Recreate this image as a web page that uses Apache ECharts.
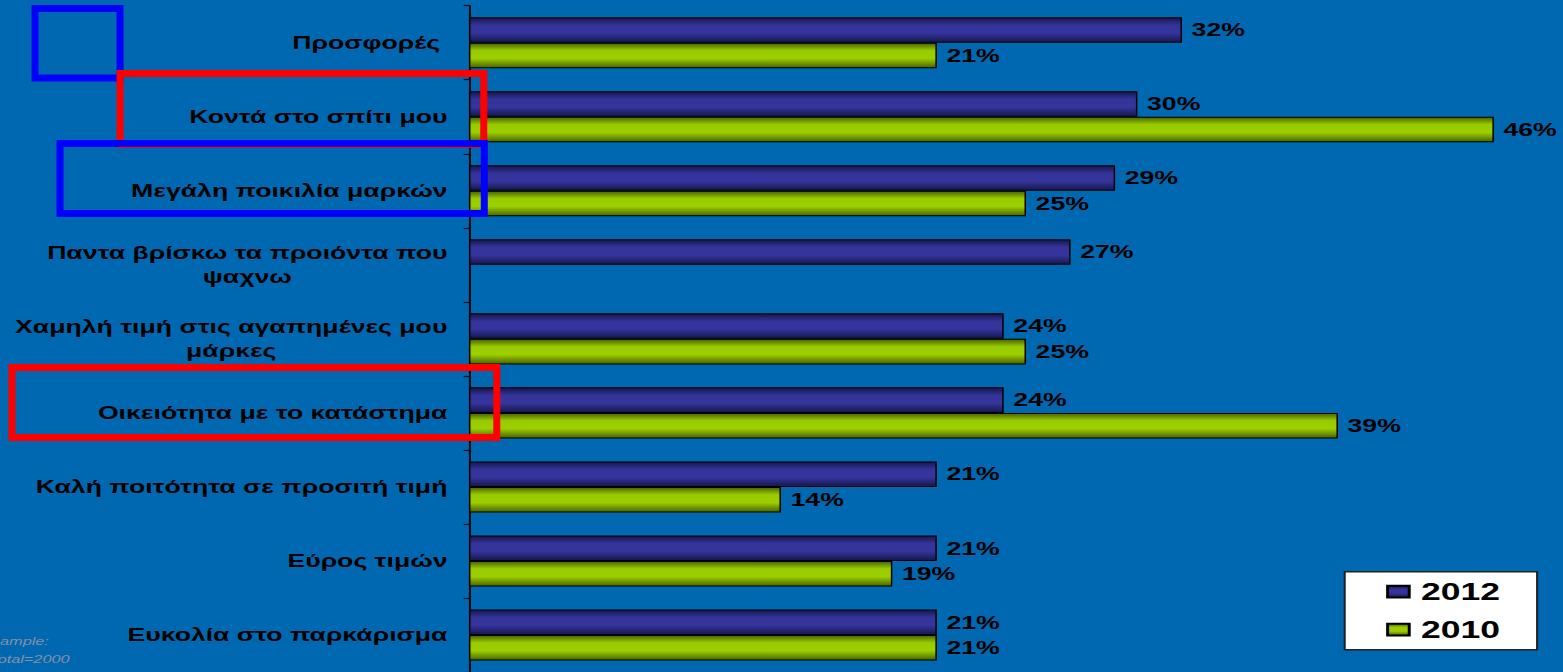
<!DOCTYPE html>
<html>
<head>
<meta charset="utf-8">
<script src="https://cdn.jsdelivr.net/npm/echarts@6/dist/echarts.min.js"></script>
<style>
  html, body { margin: 0; padding: 0; background: #0067B1; overflow: hidden; }
  #chart { width: 1056px; height: 672px; transform-origin: 0 0; transform: scaleX(1.48011); }
</style>
</head>
<body>
<div id="chart"></div>
<script>
// Reasons for choosing the store, 2012 vs 2010 (% of respondents)
const categories = [
  'Προσφορές ',
  'Κοντά στο σπίτι μου',
  'Μεγάλη ποικιλία μαρκών',
  'Παντα βρίσκω τα προιόντα που\nψαχνω',
  'Χαμηλή τιμή στις αγαπημένες μου\nμάρκες',
  'Οικειότητα με το κατάστημα',
  'Καλή ποιτότητα σε προσιτή τιμή',
  'Εύρος τιμών',
  'Ευκολία στο παρκάρισμα'
];
const values2012 = [32, 30, 29, 27, 24, 24, 21, 21, 21];
const values2010 = [21, 46, 25, null, 25, 39, 14, 19, 21];
const seriesNames = ['2012', '2010'];
const sampleNote = 'Sample:\nTotal=2000';

// The page is drawn narrow and stretched horizontally by CSS.
const SX = 1563 / 1056;
const FONT = '"Liberation Sans", Arial, sans-serif';
const X_MAX = 48;
const PX_PER_UNIT = 22.28; // screen pixels per percentage point

function barGradient(edgeTop, mid1, mid2, edgeBottom) {
  return new echarts.graphic.LinearGradient(0, 0, 0, 1, [
    { offset: 0, color: edgeTop },
    { offset: 0.3, color: mid1 },
    { offset: 0.62, color: mid2 },
    { offset: 1, color: edgeBottom }
  ]);
}

// Outline boxes drawn over the category labels (given in screen pixels).
function outlineBox(x0, y0, x1, y1, color, z) {
  return {
    type: 'rect', z: z, silent: true,
    shape: { x: x0, y: y0, width: x1 - x0, height: y1 - y0 },
    style: { fill: 'none', stroke: color, lineWidth: 7 }
  };
}

const chart = echarts.init(document.getElementById('chart'), null, { renderer: 'svg', width: 1056, height: 672 });

const labelFont = { fontFamily: FONT, fontWeight: 'bold', fontSize: 18, color: '#000' };

chart.setOption({
  backgroundColor: '#0067B1',
  animation: false,
  grid: { left: 469 / SX, top: 5.7, width: X_MAX * PX_PER_UNIT / SX, height: 668.3, containLabel: false },
  xAxis: {
    type: 'value', min: 0, max: X_MAX,
    show: false
  },
  yAxis: {
    type: 'category',
    data: categories,
    inverse: true,
    axisLine: { show: true, lineStyle: { color: '#0a0a0a', width: 1.4 } },
    axisTick: { show: true, length: 3.6, lineStyle: { color: '#0a0a0a', width: 1.2 } },
    splitLine: { show: false },
    axisLabel: {
      margin: 14.5,
      formatter: function (v) {
        return v.split('\n').map(function (l) { return '{c|' + l + '}'; }).join('\n');
      },
      rich: {
        c: Object.assign({ align: 'center', lineHeight: 24 }, labelFont)
      }
    }
  },
  legend: {
    orient: 'vertical',
    left: 1344.7 / SX, top: 571.7,
    padding: [8, 25, 8, 28],
    itemGap: 14,
    itemWidth: 14.6, itemHeight: 11.7,
    icon: 'rect',
    backgroundColor: '#ffffff',
    borderColor: '#222222', borderWidth: 1.4,
    data: seriesNames,
    textStyle: { fontFamily: FONT, fontWeight: 'bold', fontSize: 24, color: '#000', padding: [0, 0, 0, 3] }
  },
  series: [
    {
      name: seriesNames[0], type: 'bar', data: values2012,
      barGap: '0%', barCategoryGap: '31%',
      itemStyle: {
        color: barGradient('#16164a', '#333399', '#35359e', '#17174d'),
        borderColor: '#000', borderWidth: 1
      },
      label: Object.assign({ show: true, position: 'right', distance: 6.5, formatter: '{c}%' }, labelFont)
    },
    {
      name: seriesNames[1], type: 'bar', data: values2010,
      barGap: '0%', barCategoryGap: '31%',
      itemStyle: {
        color: barGradient('#4a6300', '#99cc00', '#9ccf00', '#4a6300'),
        borderColor: '#000', borderWidth: 1
      },
      label: Object.assign({ show: true, position: 'right', distance: 6.5, formatter: '{c}%' }, labelFont)
    }
  ],
  graphic: [
    {
      type: 'text', x: -7.3, y: 632, silent: true,
      style: {
        text: sampleNote, fontFamily: FONT, fontStyle: 'italic', fontSize: 11,
        lineHeight: 18, fill: '#8590a3'
      }
    },
    {
      type: 'group', x: 0, y: 0, scaleX: 1 / SX, silent: true,
      children: [
        outlineBox(35, 8.5, 120, 78, '#0000ff', 10),
        outlineBox(120, 73.5, 483.5, 144.5, '#ff0000', 11),
        outlineBox(60, 143.5, 484, 213.5, '#0000ff', 12),
        outlineBox(12, 367.5, 496.5, 437.5, '#ff0000', 13)
      ]
    }
  ]
});
</script>
</body>
</html>
